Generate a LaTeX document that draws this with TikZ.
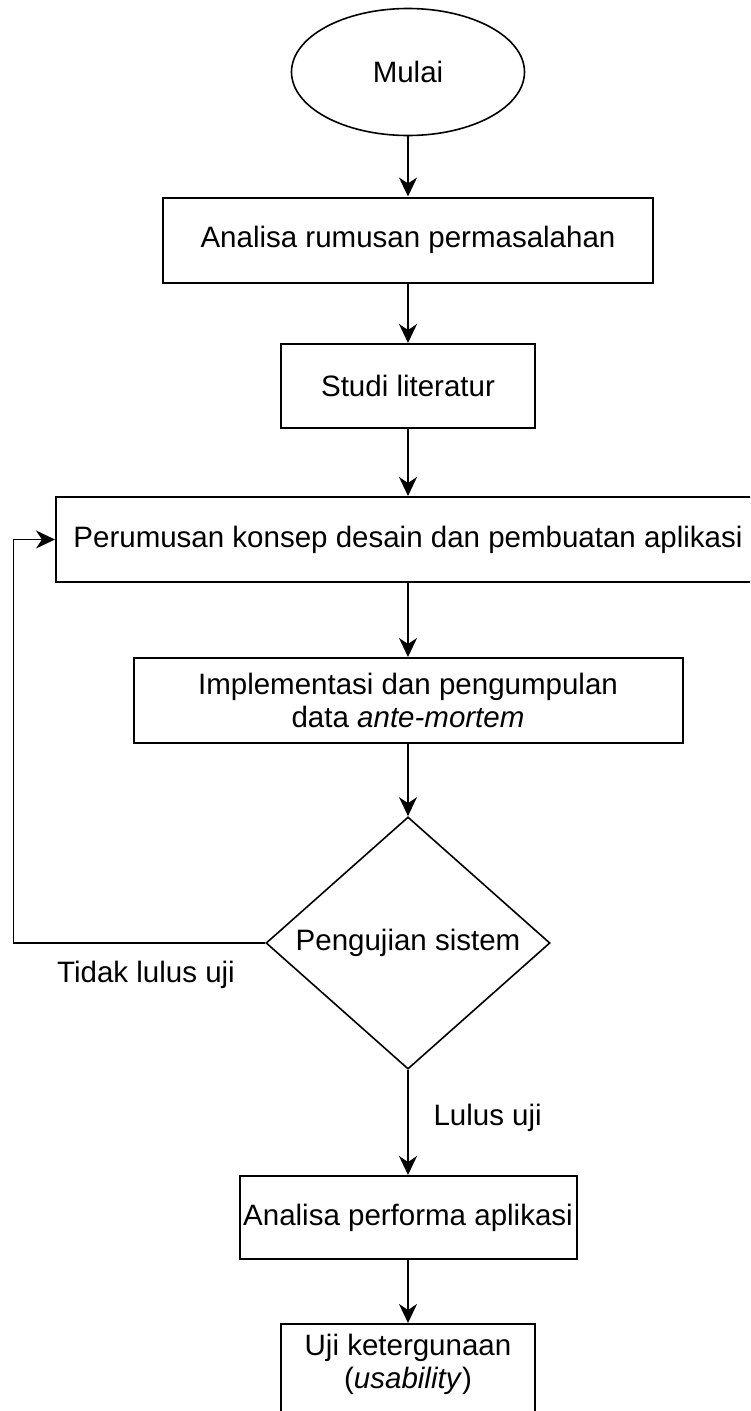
\documentclass[tikz,border=0pt]{standalone}
\usepackage{fontspec}
\setmainfont{Liberation Sans}
\usetikzlibrary{arrows.meta,shapes.geometric}
\begin{document}
\begin{tikzpicture}[x=1pt,y=-1pt,
  font=\fontsize{29.5}{33}\selectfont,
  box/.style={draw,line width=2pt,inner sep=0pt,align=center},
  conn/.style={line width=1.8pt,-{Stealth[length=19pt,width=18pt,inset=6pt]}}]
\useasboundingbox (0,0) rectangle (750,1411);
\clip (0,0) rectangle (750,1411);
\node[draw,ellipse,line width=1.6pt,minimum width=233pt,minimum height=127pt,inner sep=0pt] (start) at (408,72) {Mulai};
\node[box,minimum width=490pt,minimum height=85pt] (b1) at (408,240) {Analisa rumusan permasalahan};
\node[box,minimum width=254pt,minimum height=84pt] (b2) at (408,386) {Studi literatur};
\node[box,minimum width=704pt,minimum height=85pt] (b3) at (408,539.5) {Perumusan konsep desain dan pembuatan aplikasi};
\node[box,minimum width=549pt,minimum height=85pt] (b4) at (408,700.5) {Implementasi dan pengumpulan\\data \textit{ante-mortem}};
\node[draw,diamond,line width=1.6pt,minimum width=284pt,minimum height=250pt,inner sep=0pt] (d) at (408,943) {Pengujian sistem};
\node[box,minimum width=337pt,minimum height=83pt] (b5) at (408,1217.5) {Analisa performa aplikasi};
\node[box,minimum width=254pt,minimum height=100pt,anchor=north] (b6) at (408,1323) {};
\node[align=center,inner sep=0pt] (b6t) at (408,1364) {Uji ketergunaan\\(\textit{usability})};
\node (no) at (146,975) {Tidak lulus uji};
\node[anchor=west] (yes) at (430,1118) {Lulus uji};
\coordinate (fb) at (13.5,943);
\draw[conn] (start.south) -- (b1.north);
\draw[conn] (b1.south) -- (b2.north);
\draw[conn] (b2.south) -- (b3.north);
\draw[conn] (b3.south) -- (b4.north);
\draw[conn] (b4.south) -- (d.north);
\draw[conn] (d.south) -- (b5.north);
\draw[conn] (b5.south) -- (b6.north);
\draw[conn] (d.west) -- (fb) |- (b3.west);
\end{tikzpicture}
\end{document}
